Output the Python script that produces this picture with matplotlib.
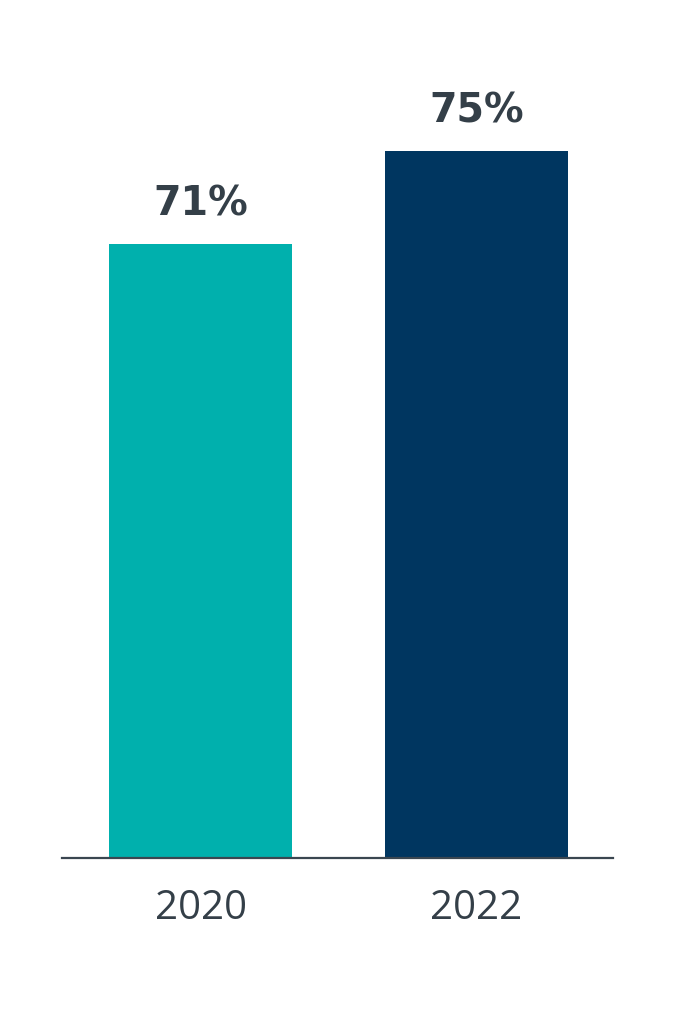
import matplotlib
matplotlib.use("Agg")
import matplotlib.pyplot as plt

categories = ["2020", "2022"]
values = [71, 75]
labels = ["71%", "75%"]
colors = ["#00B0AD", "#003660"]
text_color = "#343F48"

fig = plt.figure(figsize=(6.82, 10.17), dpi=100)
ax = fig.add_axes([62/682, 159/1017, (613-62)/682, 858/1017])
x = list(range(len(categories)))
bars = ax.bar(x, values, width=0.663, color=colors, zorder=2)
ax.set_xlim(-0.502, 1.4946)
ax.set_ylim(44.6, 81.5)
for xi, v, lab in zip(x, values, labels):
    ax.annotate(lab, (xi, v), xytext=(0, 14), textcoords="offset points",
                ha="center", va="bottom", fontsize=28.5, fontweight="bold",
                color=text_color, family="DejaVu Sans")
for s in ["top", "right", "left"]:
    ax.spines[s].set_visible(False)
ax.spines["bottom"].set_color("#3A4650")
ax.spines["bottom"].set_linewidth(1.6)
ax.set_yticks([])
ax.set_xticks(x)
ax.set_xticklabels(categories, fontsize=29, color=text_color, family="Open Sans")
ax.tick_params(axis="x", length=0, pad=22)
fig.savefig("out.png", dpi=100)
